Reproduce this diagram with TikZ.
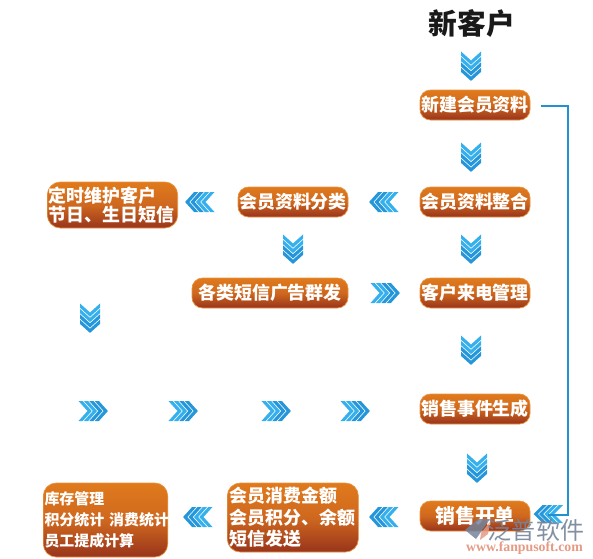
\documentclass[tikz,border=0pt]{standalone}
\usepackage{fontspec}
\setmainfont{Noto Sans CJK SC}
\newfontfamily\heavyfont{Noto Sans CJK SC Black}
\newfontfamily\wmfont{Liberation Serif}
\usepackage{tikz}
\usetikzlibrary{arrows.meta,calc}
\definecolor{BoxTop}{HTML}{E07A1C}
\definecolor{BoxMid}{HTML}{CF681E}
\definecolor{BoxBottom}{HTML}{98341C}
\definecolor{BoxRim}{HTML}{E8923E}
\definecolor{FlowBlue}{HTML}{2596DA}
\definecolor{FlowLight}{HTML}{35B0EC}
\definecolor{LinkBlue}{HTML}{2191D0}
\definecolor{MarkGrey}{HTML}{76849A}
\definecolor{MarkRed}{HTML}{E59A85}

\tikzset{
  stepbox/.style={rounded corners=9pt,draw=BoxRim,line width=0.6pt,
    top color=BoxTop,bottom color=BoxBottom,middle color=BoxMid,
    text=white,font=\bfseries\fontsize{15.3}{15.3}\selectfont,inner sep=0pt,
    minimum width=110*0.03cm,minimum height=30*0.03cm},
  notebox/.style={stepbox,rounded corners=11pt,align=left,anchor=west},
  chevron/.pic={
    \foreach \y/\c in {0/FlowLight,5.4/FlowLight,10.8/FlowBlue,16.2/FlowBlue}
      \fill[\c] (-10,\y-14.5) -- (0,\y-5.5) -- (10,\y-14.5) -- (10,\y-10.3) -- (0,\y-1.3) -- (-10,\y-10.3) -- cycle;
  }
}

\begin{document}
\begin{tikzpicture}[x=0.03cm,y=-0.03cm]
  \useasboundingbox (0,0) rectangle (593,558);

  \node[font=\heavyfont\fontsize{24.5}{25}\selectfont,text=black!90] (newcustomer) at (472,24) {新客户};

  % right column
  \node[stepbox] (newinfo) at (475,105) {新建会员资料};
  \node[stepbox] (arrange) at (475,202) {会员资料整合};
  \node[stepbox] (incall) at (475,293) {客户来电管理};
  \node[stepbox] (event) at (475,409) {销售事件生成};
  \node[stepbox,font=\bfseries\fontsize{17}{17}\selectfont] (order) at (475,516) {销售开单};

  % middle and left boxes
  \node[stepbox] (classify) at (293,202) {会员资料分类};
  \node[stepbox,minimum width=156*0.03cm] (bulksms) at (270,293) {各类短信广告群发};
  \node[notebox,minimum width=130*0.03cm,minimum height=46*0.03cm,
    text width=128*0.03cm,inner xsep=1pt] (care) at (47,205)
    {定时维护客户\\[0.5pt]节日、生日短信};
  \node[notebox,minimum width=131*0.03cm,minimum height=69*0.03cm,
    text width=126*0.03cm,inner xsep=2pt] (spend) at (227,517.5)
    {会员消费金额\\[3pt]会员积分、余额\\[3pt]短信发送};
  \node[notebox,minimum width=124*0.03cm,minimum height=74*0.03cm,
    text width=122*0.03cm,inner xsep=1pt,
    font=\bfseries\fontsize{12.75}{12.75}\selectfont] (stock) at (43,520)
    {库存管理\\[5pt]\mbox{积分统计 消费统计}\\[5pt]员工提成计算};

  % chevrons
  \foreach \cx/\cy in {471/66,471/157,471/249,471/350,477/468,293/249,90/318}
    \pic at (\cx,\cy) {chevron};
  \foreach \cx/\cy in {200/202,384/202,198/517,384/517}
    \pic[rotate=-90] at (\cx,\cy) {chevron};
  \foreach \cx/\cy in {385/293,93/411,183/411,276/411,355/411}
    \pic[rotate=90] at (\cx,\cy) {chevron};
  \pic[rotate=-90,xscale=0.9] at (548.5,514) {chevron};

  % link on the right
  \coordinate (turntop) at (568,106);
  \coordinate (turnbot) at (568,515);
  \draw[LinkBlue,line width=1.7pt,shorten <=11*0.03cm,shorten >=18*0.03cm]
    (newinfo.east |- turntop) -- (turntop) -- (turnbot) -- (order.east |- turnbot);

  % watermark
  \fill[MarkGrey,opacity=0.85] (478,519) -- (490,519) -- (476,539) -- (465,530) -- cycle;
  \fill[MarkRed,opacity=0.85] (481,533) -- (490,522) -- (488,534) -- (480,540) -- cycle;
  \node[text=MarkGrey,opacity=0.9,font=\fontsize{20.5}{21}\selectfont] (markname) at (536,530) {泛普软件};
  \node[text=MarkRed,font=\wmfont\bfseries\fontsize{11.8}{12}\selectfont] (markurl) at (524.5,548.5) {www.fanpusoft.com};
\end{tikzpicture}
\end{document}
